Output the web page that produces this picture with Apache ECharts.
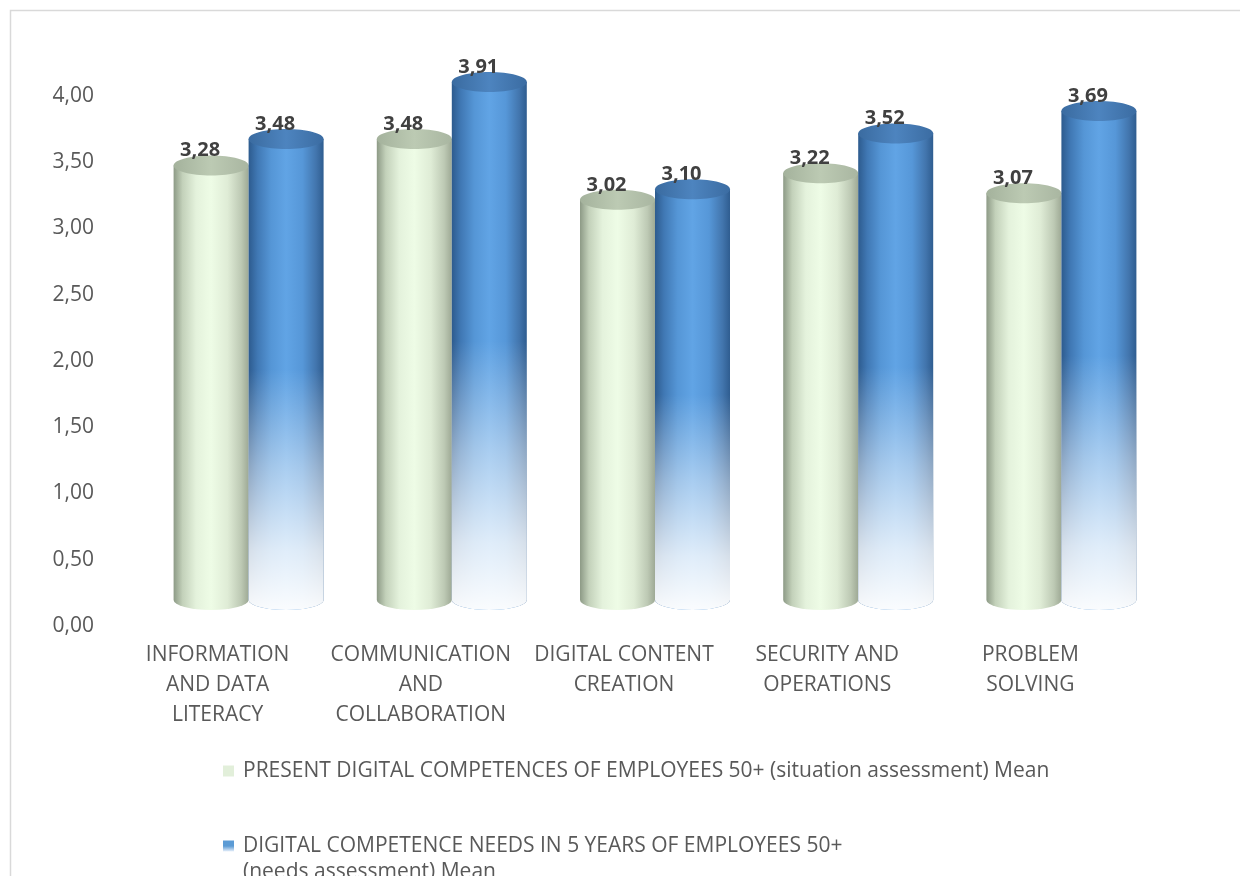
<!DOCTYPE html>
<html>
<head>
<meta charset="utf-8">
<script src="https://cdn.jsdelivr.net/npm/echarts@6/dist/echarts.min.js"></script>
<style>html,body{margin:0;padding:0;background:#fff}#c{width:1240px;height:876px}</style>
</head>
<body>
<div id="c"></div>
<script>
const categories = [
  'INFORMATION\nAND DATA\nLITERACY',
  'COMMUNICATION\nAND\nCOLLABORATION',
  'DIGITAL CONTENT\nCREATION',
  'SECURITY AND\nOPERATIONS',
  'PROBLEM\nSOLVING'
];
const presentName = 'PRESENT DIGITAL COMPETENCES OF EMPLOYEES 50+ (situation assessment) Mean';
const needsName = 'DIGITAL COMPETENCE NEEDS IN 5 YEARS OF EMPLOYEES 50+\n(needs assessment) Mean';
const presentMean = [3.28, 3.48, 3.02, 3.22, 3.07];
const needsMean = [3.48, 3.91, 3.10, 3.52, 3.69];

const FONT = '"Open Sans", "Liberation Sans", sans-serif';
const fmt = v => v.toFixed(2).replace('.', ',');

const G = echarts.graphic;
const greenBody = () => new G.LinearGradient(0, 0, 1, 0, [
  {offset: 0, color: '#8d9a86'}, {offset: 0.12, color: '#c3d1ba'},
  {offset: 0.3, color: '#e4f2dc'}, {offset: 0.5, color: '#eefce6'},
  {offset: 0.72, color: '#dfecd6'}, {offset: 0.9, color: '#bdc9b4'},
  {offset: 1, color: '#9ea995'}]);
const greenCap = () => new G.LinearGradient(0, 0, 1, 0, [
  {offset: 0, color: '#a4b29c'}, {offset: 0.5, color: '#bccab3'}, {offset: 1, color: '#a9b6a1'}]);
const blueBody = () => new G.LinearGradient(0, 0, 1, 0, [
  {offset: 0, color: '#2d5b8e'}, {offset: 0.12, color: '#4078b4'},
  {offset: 0.3, color: '#5596d6'}, {offset: 0.5, color: '#61a4e5'},
  {offset: 0.72, color: '#5697d8'}, {offset: 0.9, color: '#4275ad'},
  {offset: 1, color: '#2f5d90'}]);
const blueCap = () => new G.LinearGradient(0, 0, 1, 0, [
  {offset: 0, color: '#3a6ba0'}, {offset: 0.5, color: '#4d84bf'}, {offset: 1, color: '#3b6ca2'}]);

function bodyPath(x0, x1, yTop, yBase, ry) {
  const rx = (x1 - x0) / 2;
  return 'M' + x0 + ' ' + yTop + 'L' + x1 + ' ' + yTop + 'L' + x1 + ' ' + yBase +
    'A' + rx + ' ' + ry + ' 0 0 1 ' + x0 + ' ' + yBase + 'Z';
}

function cylinder(kind) {
  return function (params, api) {
    const idx = api.value(0), v = api.value(1);
    const top = api.coord([idx, v]);
    const base = api.coord([idx, 0]);
    const w = 75, ry = 10;
    const cx = top[0] + (kind === 0 ? -w / 2 : w / 2);
    const x0 = cx - w / 2, x1 = cx + w / 2;
    const children = [
      {type: 'path', shape: {pathData: bodyPath(x0, x1, top[1], base[1], ry)},
       style: {fill: kind === 0 ? greenBody() : blueBody()}}
    ];
    if (kind === 1) {
      const fadeStart = top[1] + (base[1] - top[1]) * 0.5;
      children.push({type: 'path', shape: {pathData: bodyPath(x0, x1, fadeStart, base[1], ry)},
        style: {fill: new G.LinearGradient(0, 0, 0, 1, [
          {offset: 0, color: 'rgba(255,255,255,0)'},
          {offset: 0.4, color: 'rgba(255,255,255,0.45)'},
          {offset: 0.75, color: 'rgba(255,255,255,0.8)'},
          {offset: 1, color: 'rgba(255,255,255,0.97)'}])}});
    }
    children.push({type: 'ellipse', shape: {cx: cx, cy: top[1], rx: w / 2, ry: ry},
      style: {fill: kind === 0 ? greenCap() : blueCap()}});
    children.push({type: 'text', style: {text: fmt(v), x: cx - 11, y: top[1] - 15, align: 'center', verticalAlign: 'middle',
      font: 'bold 20px ' + FONT, fill: '#404040'}});
    return {type: 'group', children: children};
  };
}

const chart = echarts.init(document.getElementById('c'), null, {renderer: 'canvas'});
chart.setOption({
  animation: false,
  textStyle: {fontFamily: FONT},
  graphic: [{type: 'rect', shape: {x: 10.5, y: 10.5, width: 1400, height: 1000}, style: {fill: 'none', stroke: '#d9d9d9', lineWidth: 1.5}, silent: true, z: -10}],
  grid: [
    {left: 116, width: 1016, top: 96, bottom: 250},
    {left: 147, width: 1016, top: 70, bottom: 276}
  ],
  xAxis: [
    {type: 'category', gridIndex: 0, data: categories, axisLine: {show: false}, axisTick: {show: false},
     axisLabel: {interval: 0, color: '#595959', fontSize: 21, lineHeight: 30, margin: 14}},
    {type: 'category', gridIndex: 1, data: categories, show: false}
  ],
  yAxis: [
    {type: 'value', gridIndex: 0, min: 0, max: 4, interval: 0.5, splitLine: {show: false}, axisLine: {show: false}, axisTick: {show: false},
     axisLabel: {color: '#595959', fontSize: 21, margin: 22, formatter: v => fmt(v)}},
    {type: 'value', gridIndex: 1, min: 0, max: 4, show: false}
  ],
  legend: [
    {data: [presentName], left: 223, top: 758, padding: 0, icon: 'rect', itemWidth: 11, itemHeight: 11,
     textStyle: {color: '#595959', fontSize: 21, lineHeight: 26, padding: [0, 0, 0, 4]}},
    {data: [needsName], left: 223, top: 807, padding: 0, icon: 'rect', itemWidth: 11, itemHeight: 11,
     formatter: name => ' \n' + name,
     textStyle: {color: '#595959', fontSize: 21, lineHeight: 26, padding: [0, 0, 0, 4]}}
  ],
  series: [
    {type: 'custom', name: presentName, xAxisIndex: 1, yAxisIndex: 1, renderItem: cylinder(0),
     itemStyle: {color: '#e2efda'}, encode: {x: 0, y: 1},
     data: presentMean.map((v, i) => [i, v])},
    {type: 'custom', name: needsName, xAxisIndex: 1, yAxisIndex: 1, renderItem: cylinder(1),
     itemStyle: {color: new G.LinearGradient(0, 0, 0, 1, [{offset: 0, color: '#5b9bd5'}, {offset: 0.5, color: '#5b9bd5'}, {offset: 1, color: '#e8f0fa'}])},
     encode: {x: 0, y: 1},
     data: needsMean.map((v, i) => [i, v])}
  ]
});
</script>
</body>
</html>
